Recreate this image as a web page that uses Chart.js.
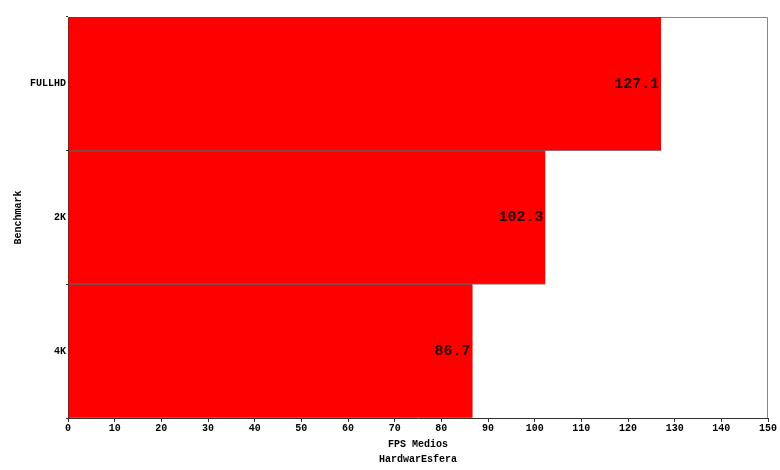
<!DOCTYPE html>
<html>
<head>
<meta charset="utf-8">
<script src="https://cdn.jsdelivr.net/npm/chart.js@4/dist/chart.umd.min.js"></script>
<style>
  body { margin: 0; background: #fff; }
  #wrap { width: 780px; height: 470px; }
</style>
</head>
<body>
<div id="wrap"><canvas id="grafico"></canvas></div>
<script>
// Datos
const resoluciones = ["FULLHD", "2K", "4K"];
const fpsMedios = [127.1, 102.3, 86.7];
const ejeMin = 0;
const ejeMax = 150;
const paso = 10;

const fuente = "'Liberation Mono', 'Courier New', monospace";

// Marco gris arriba y a la derecha
const marco = {
  id: "marco",
  beforeDatasetsDraw(chart) {
    const { ctx, chartArea: a } = chart;
    ctx.save();
    ctx.strokeStyle = "#888";
    ctx.lineWidth = 1;
    ctx.beginPath();
    ctx.moveTo(a.left, a.top + 0.5);
    ctx.lineTo(a.right - 0.5, a.top + 0.5);
    ctx.lineTo(a.right - 0.5, a.bottom);
    ctx.stroke();
    ctx.restore();
  }
};

// Valores dentro del final de cada barra
const etiquetas = {
  id: "etiquetas",
  afterDatasetsDraw(chart) {
    const { ctx } = chart;
    const meta = chart.getDatasetMeta(0);
    ctx.save();
    ctx.font = "bold 15px " + fuente;
    ctx.fillStyle = "#2a0000";
    ctx.textAlign = "right";
    ctx.textBaseline = "middle";
    meta.data.forEach((bar, i) => {
      ctx.fillText(fpsMedios[i].toFixed(1), bar.x - 2, bar.y);
    });
    ctx.restore();
  }
};

new Chart(document.getElementById("grafico"), {
  type: "bar",
  data: {
    labels: resoluciones,
    datasets: [{
      data: fpsMedios,
      backgroundColor: "#ff0000",
      borderColor: "rgba(100,0,0,0.6)",
      borderWidth: { top: 1, bottom: 1, left: 0, right: 0 },
      borderSkipped: false,
      barPercentage: 1,
      categoryPercentage: 1
    }]
  },
  options: {
    indexAxis: "y",
    responsive: true,
    maintainAspectRatio: false,
    animation: false,
    layout: { padding: { top: 17, right: 12, left: 0, bottom: 0 } },
    plugins: {
      legend: { display: false },
      tooltip: { enabled: false }
    },
    scales: {
      x: {
        min: ejeMin,
        max: ejeMax,
        ticks: {
          stepSize: paso,
          color: "#000",
          padding: 0,
          maxRotation: 0,
          font: { family: fuente, size: 10, weight: "bold" }
        },
        grid: { display: true, drawOnChartArea: false, tickLength: 4, color: "#333" },
        border: { color: "#333", width: 1 },
        title: {
          display: true,
          text: ["FPS Medios", "HardwarEsfera"],
          color: "#000",
          padding: { top: 0, bottom: 3 },
          font: { family: fuente, size: 10, weight: "bold", lineHeight: 1.5 }
        },
        afterFit(scale) { scale.height = 52; }
      },
      y: {
        offset: true,
        ticks: {
          color: "#000",
          padding: 0,
          font: { family: fuente, size: 10, weight: "bold" }
        },
        grid: { offset: true, drawOnChartArea: false, tickLength: 2, color: "#333" },
        border: { color: "#333", width: 1 },
        title: {
          display: true,
          text: "Benchmark",
          color: "#000",
          padding: { top: 12, bottom: 0 },
          font: { family: fuente, size: 10, weight: "bold" }
        },
        afterFit(scale) { scale.width = 68; }
      }
    }
  },
  plugins: [marco, etiquetas]
});
</script>
</body>
</html>
